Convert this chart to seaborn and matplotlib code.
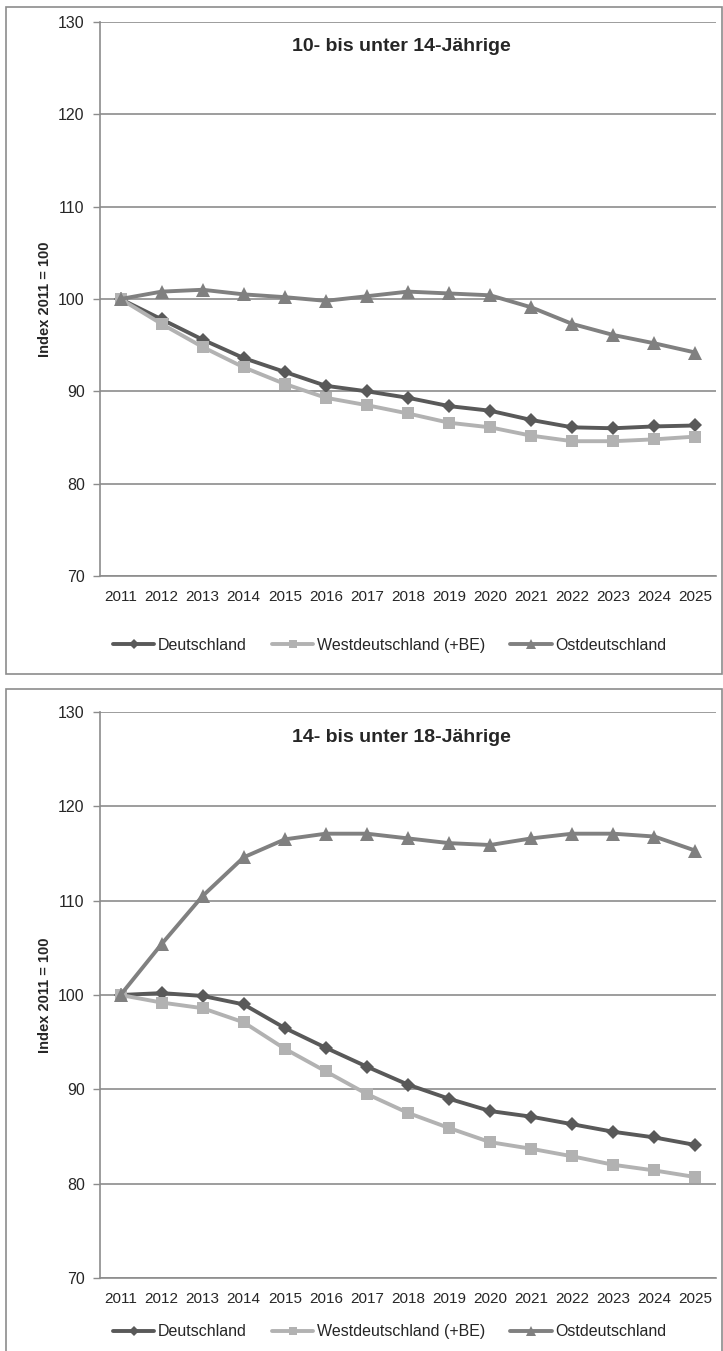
import pandas as pd
import seaborn as sns
import matplotlib.pyplot as plt
from matplotlib.patches import Rectangle

# Daten (Index 2011 = 100)
years = [2011, 2012, 2013, 2014, 2015, 2016, 2017, 2018, 2019, 2020, 2021, 2022, 2023, 2024, 2025]
regions = ['Deutschland', 'Westdeutschland (+BE)', 'Ostdeutschland']

top_de = [100, 97.8, 95.6, 93.6, 92.1, 90.6, 90.0, 89.3, 88.4, 87.9, 86.9, 86.1, 86.0, 86.2, 86.3]
top_west = [100, 97.3, 94.8, 92.6, 90.8, 89.3, 88.5, 87.6, 86.6, 86.1, 85.2, 84.6, 84.6, 84.8, 85.1]
top_ost = [100, 100.8, 101.0, 100.5, 100.2, 99.8, 100.3, 100.8, 100.6, 100.4, 99.1, 97.3, 96.1, 95.2, 94.2]

bot_de = [100, 100.2, 99.9, 99.0, 96.5, 94.4, 92.4, 90.5, 89.0, 87.7, 87.1, 86.3, 85.5, 84.9, 84.1]
bot_west = [100, 99.2, 98.6, 97.1, 94.3, 91.9, 89.5, 87.5, 85.9, 84.4, 83.7, 82.9, 82.0, 81.4, 80.7]
bot_ost = [100, 105.4, 110.5, 114.6, 116.5, 117.1, 117.1, 116.6, 116.1, 115.9, 116.6, 117.1, 117.1, 116.8, 115.3]

titles = ['10- bis unter 14-Jährige', '14- bis unter 18-Jährige']
y_ticks = [70, 80, 90, 100, 110, 120, 130]

colors = {'Deutschland': '#595959', 'Westdeutschland (+BE)': '#b2b2b2', 'Ostdeutschland': '#808080'}
markers = {'Deutschland': 'D', 'Westdeutschland (+BE)': 's', 'Ostdeutschland': '^'}
msizes = {'Deutschland': 7.5, 'Westdeutschland (+BE)': 8.5, 'Ostdeutschland': 9.5}

sns.set_style('white')
plt.rcParams['font.family'] = ['Liberation Sans', 'DejaVu Sans']

fig = plt.figure(figsize=(7.23, 13.51), dpi=100)

grey = '#8c8c8c'
# outer chart frames
fig.patches.append(Rectangle((6 / 723, 1 - 674 / 1351), 716 / 723, 667 / 1351,
                             transform=fig.transFigure, fill=False, edgecolor=grey, lw=1.2))
fig.patches.append(Rectangle((6 / 723, -0.05), 716 / 723, 0.05 + 1 - 689 / 1351,
                             transform=fig.transFigure, fill=False, edgecolor=grey, lw=1.2))

axes_pos = [[100 / 723, 1 - 576 / 1351, 616 / 723, 554 / 1351],
            [100 / 723, 1 - 1278 / 1351, 616 / 723, 566 / 1351]]
legend_y = [-0.125, -0.095]
series = [[top_de, top_west, top_ost], [bot_de, bot_west, bot_ost]]

for i in range(2):
    ax = fig.add_axes(axes_pos[i])
    for name, vals in zip(regions, series[i]):
        sns.lineplot(x=years, y=vals, ax=ax, color=colors[name], marker=markers[name],
                     markersize=msizes[name], markeredgewidth=0, linewidth=2.8, label=name)

    ax.set_xlim(2010.5, 2025.5)
    ax.set_ylim(70, 130)
    ax.set_yticks(y_ticks)
    ax.set_xticks(years)
    ax.set_xticklabels([str(y) for y in years])
    ax.set_xticks([y + 0.5 for y in [2010] + years], minor=True)
    ax.tick_params(axis='x', which='major', length=0, pad=10, labelsize=11)
    ax.tick_params(axis='x', which='minor', length=5, color=grey, width=1)
    ax.tick_params(axis='y', length=5, color=grey, width=1, pad=6, labelsize=11.5, left=True)
    ax.grid(axis='y', color=grey, lw=1.2)
    ax.set_axisbelow(True)
    for side in ['top', 'right']:
        ax.spines[side].set_visible(False)
    for side in ['left', 'bottom']:
        ax.spines[side].set_color(grey)
        ax.spines[side].set_linewidth(1.2)

    ax.set_xlabel('')
    ax.set_ylabel('Index 2011 = 100', fontsize=10.5, fontweight='bold')
    ax.yaxis.set_label_coords(-0.078, 0.5)

    ax.text(0.49, 0.955, titles[i], transform=ax.transAxes, ha='center', va='center',
            fontsize=14, fontweight='bold')

    ax.legend(loc='center', bbox_to_anchor=(0.47, legend_y[i]), ncol=3, frameon=False,
              fontsize=11.5, handlelength=2.6, columnspacing=1.6, handletextpad=0.2,
              markerscale=0.7)

fig.savefig('out.png', dpi=100)
